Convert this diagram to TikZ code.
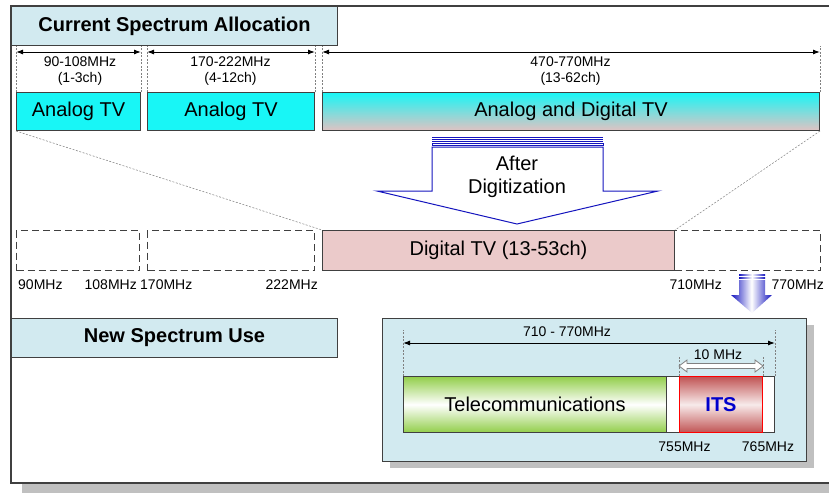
\documentclass[tikz,border=0pt]{standalone}
\usepackage{fontspec}
\setmainfont{Liberation Sans}
\usetikzlibrary{arrows.meta,positioning}
\definecolor{headblue}{RGB}{210,234,240}
\definecolor{edgegray}{RGB}{64,64,64}
\definecolor{tvcyan}{RGB}{24,246,246}
\definecolor{tvpink}{RGB}{235,202,202}
\definecolor{shadowgray}{RGB}{192,192,192}
\definecolor{arrowblue}{RGB}{20,20,190}
\definecolor{telgreen}{RGB}{146,206,74}
\definecolor{itsred}{RGB}{192,84,84}
\definecolor{itsblue}{RGB}{0,0,204}

\tikzset{
	band/.style={draw=edgegray, line width=1pt, inner sep=0pt, anchor=north west},
	header/.style={band, fill=headblue, font=\fontsize{20}{24}\selectfont\bfseries},
	bigtext/.style={font=\fontsize{20}{23}\selectfont, align=center},
	small/.style={font=\fontsize{14}{16}\selectfont, align=center, inner sep=0pt},
	gapbox/.style={draw=edgegray, dash pattern=on 7pt off 4pt, line width=1pt, inner sep=0pt, anchor=north west},
	guide/.style={gray, dash pattern=on 2pt off 1.5pt, line width=0.5pt},
	dim/.style={{Latex[length=7pt,width=5pt]}-{Latex[length=7pt,width=5pt]}, line width=1pt},
	blueshade/.style={left color=arrowblue, right color=arrowblue, middle color=white},
}

\begin{document}
\begin{tikzpicture}[x=1pt, y=-1pt]
	\useasboundingbox (0,0) rectangle (829,493);
	\clip (0,0) rectangle (829,493);
	% frame and shadow
	\fill[shadowgray] (22,16) rectangle (845,493);
	\draw[edgegray, line width=1.2pt, fill=white] (11,6) rectangle (835,483);
	
	\node[header, minimum width=326pt, minimum height=39pt] (cur) at (11,6) {Current Spectrum Allocation};
	\node[header, minimum width=326pt, minimum height=39pt] (new) at (11,318) {New Spectrum Use};
	
	% current allocation
	\node[band, fill=tvcyan, bigtext, minimum width=124pt, minimum height=38pt] (atv1) at (16,92) {Analog TV};
	\node[band, fill=tvcyan, bigtext, minimum width=167pt, minimum height=38pt] (atv2) at (147,92) {Analog TV};
	\node[band, top color=tvcyan, bottom color=tvpink!90!gray, bigtext, minimum width=497pt, minimum height=38pt] (adtv) at (322,92) {Analog and Digital TV};
	
	\foreach \n in {atv1, atv2, adtv} {
		\draw[guide] (\n.north west) -- ([yshift=46pt]\n.north west);
		\draw[guide] (\n.north east) -- ([yshift=46pt]\n.north east);
		\draw[dim] ([yshift=40pt]\n.north west) -- ([yshift=40pt]\n.north east);
	}
	\node[small] (l1) at (80,71) {90-108MHz\\(1-3ch)};
	\node[small] (l2) at (230.5,71) {170-222MHz\\(4-12ch)};
	\node[small] (l3) at (570.5,71) {470-770MHz\\(13-62ch)};
	
	% after digitization
	\draw[arrowblue, line width=1pt, fill=white] (432,147) -- (603,147) -- (603,191) -- (658,191)
		-- (517,224) -- (377,191) -- (432,191) -- cycle;
	\draw[arrowblue, line width=0.8pt] (432,137.5) -- (603,137.5) (432,139.5) -- (603,139.5)
		(432,141.5) -- (603,141.5);
	\draw[arrowblue, line width=0.8pt] (432,143) rectangle (603,145);
	\node[bigtext] (after) at (517,177) {After\\Digitization};
	
	% new allocation
	\node[gapbox, minimum width=123pt, minimum height=40pt] (gap1) at (16,230) {};
	\node[gapbox, minimum width=167pt, minimum height=40pt] (gap2) at (147,230) {};
	\node[band, fill=tvpink, bigtext, minimum width=352pt, minimum height=40pt] (dtv) at (322,230) {Digital TV (13-53ch)};
	\node[gapbox, minimum width=146pt, minimum height=40pt] (gap3) at (674,230) {};
	\draw[guide] (atv1.south west) -- (dtv.north west);
	\draw[guide] (adtv.south east) -- (dtv.north east);
	
	\node[small, anchor=west] (f90) at (18,285) {90MHz};
	\node[small, anchor=east] (f108) at (137,285) {108MHz};
	\node[small, anchor=west] (f170) at (140,285) {170MHz};
	\node[small, anchor=east] (f222) at (318,285) {222MHz};
	\node[small, anchor=east] (f710) at (722,285) {710MHz};
	\node[small, anchor=east] (f770) at (824,285) {770MHz};
	
	% small arrow
	\shade[blueshade] (739,274) rectangle (765,275.8);
	\shade[blueshade] (739,277) rectangle (765,278.8);
	\shade[blueshade] (739,280) -- (765,280) -- (765,295)
		-- (772,295) -- (752,313) -- (731,295) -- (739,295) -- cycle;
	
	% ITS panel
	\fill[shadowgray] (390,325) rectangle (814,468);
	\node[band, fill=headblue, minimum width=424pt, minimum height=143pt] (panel) at (382,318) {};
	\node[band, fill=white, minimum width=371pt, minimum height=56pt] (bar) at (403,376) {};
	\node[band, top color=telgreen, bottom color=telgreen, middle color=white, bigtext, minimum width=263pt, minimum height=56pt] (tele) at (403,376) {Telecommunications};
	\node[band, draw=red, top color=itsred, bottom color=itsred, middle color=itsred!12, text=itsblue,
		font=\fontsize{20}{24}\selectfont\bfseries, minimum width=83pt, minimum height=56pt] (its) at (679,376) {ITS};
	
	\draw[guide] (bar.north west) -- ([yshift=46pt]bar.north west);
	\draw[guide] (bar.north east) -- ([yshift=46pt]bar.north east);
	\draw[dim] ([yshift=33pt]bar.north west) -- ([yshift=33pt]bar.north east);
	\node[small] (l4) at (567,332) {710 - 770MHz};
	
	\draw[guide] (its.north west) -- ([yshift=21pt]its.north west);
	\draw[guide] (its.north east) -- ([yshift=21pt]its.north east);
	\draw[gray, fill=white, line width=0.8pt] (679,366) -- (687,360) -- (687,363.5) -- (755,363.5) -- (755,360)
		-- (763,366) -- (755,372) -- (755,368.5) -- (687,368.5) -- (687,372) -- cycle;
	\node[small] (l5) at (718,355) {10 MHz};
	
	\node[small] (f755) at (684.5,447) {755MHz};
	\node[small] (f765) at (768,447) {765MHz};
\end{tikzpicture}
\end{document}
